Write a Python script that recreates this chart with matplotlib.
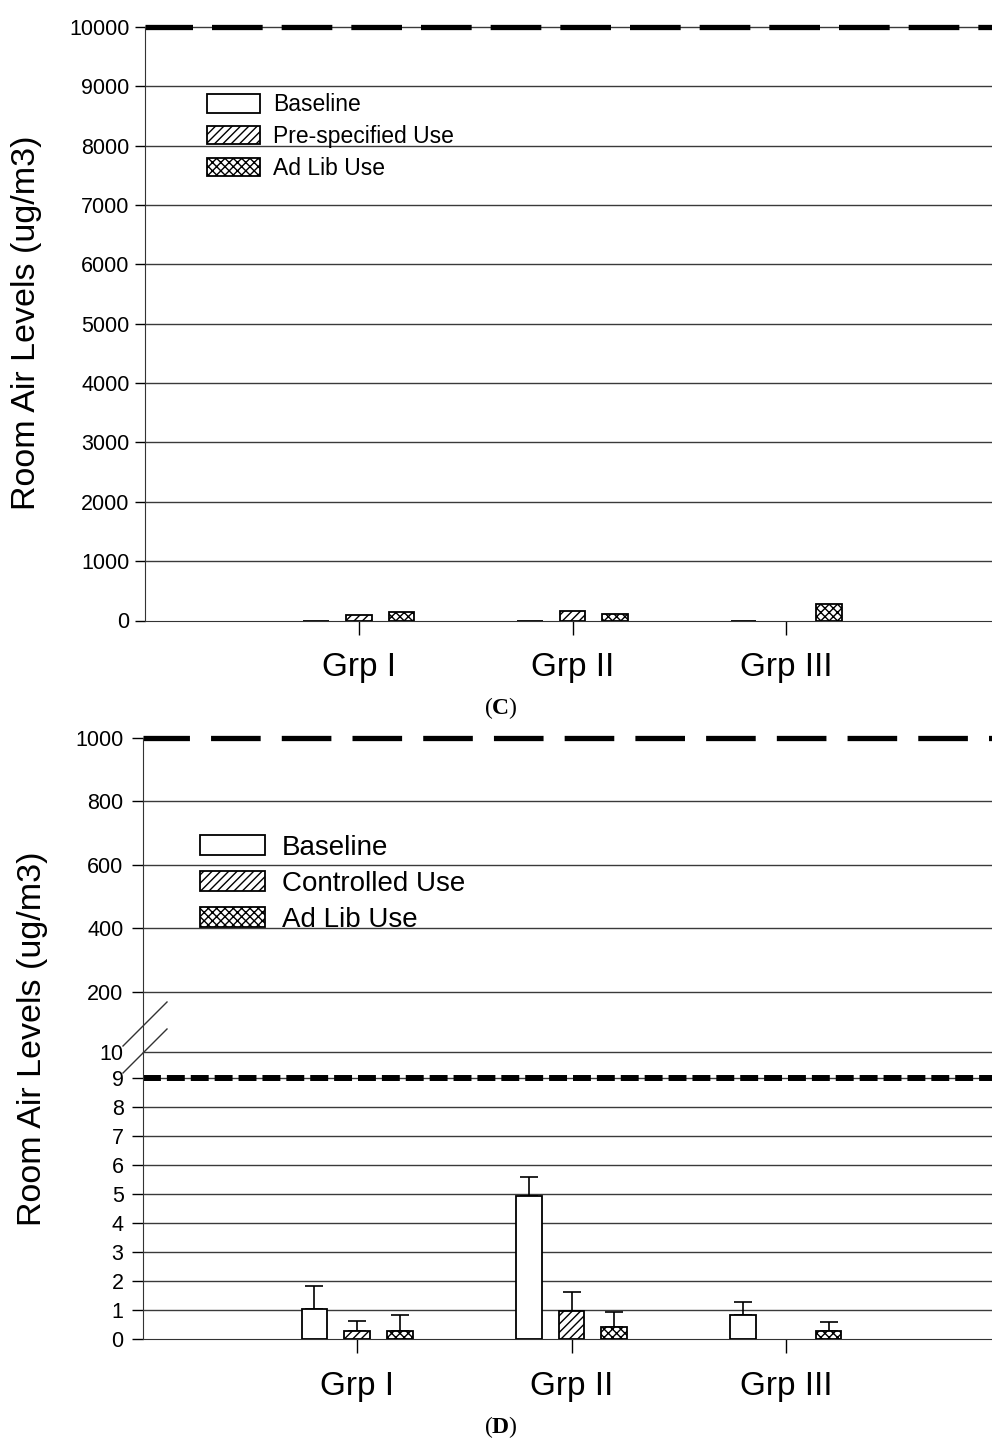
import matplotlib
matplotlib.use('Agg')
import matplotlib.pyplot as plt
import numpy as np

plt.rcParams['font.family'] = ['Liberation Sans', 'DejaVu Sans']
plt.rcParams['hatch.linewidth'] = 1.0
plt.rcParams['mathtext.fontset'] = 'custom'
plt.rcParams['mathtext.rm'] = 'Liberation Serif'
plt.rcParams['mathtext.bf'] = 'Liberation Serif:bold'

# ---------------- data ----------------
groups = ['Grp I', 'Grp II', 'Grp III']
series_c = ['Baseline', 'Pre-specified Use', 'Ad Lib Use']
series_d = ['Baseline', 'Controlled Use', 'Ad Lib Use']

c_baseline = [0, 0, 0]
c_prespec = [100, 155, np.nan]
c_adlib = [140, 105, 275]

d_baseline = [1.05, 4.95, 0.83]
d_controlled = [0.29, 0.97, np.nan]
d_adlib = [0.29, 0.42, 0.28]
d_baseline_err = [0.78, 0.65, 0.46]
d_controlled_err = [0.34, 0.65, np.nan]
d_adlib_err = [0.53, 0.52, 0.32]

c_yticks = [0, 1000, 2000, 3000, 4000, 5000, 6000, 7000, 8000, 9000, 10000]
d_upper_ticks = [10, 200, 400, 600, 800, 1000]
d_lower_ticks = [0, 1, 2, 3, 4, 5, 6, 7, 8, 9]
c_limit = 10000
d_limit_upper = 1000
d_limit_lower = 9

hatches = [None, '////', 'xxxx']
offsets = [-0.2, 0.0, 0.2]
width = 0.12
grid_color = '#3a3a3a'

W, H = 992, 1439
fig = plt.figure(figsize=(W / 100, H / 100), dpi=100)


def fx(px):
    return px / W


def fy(py):
    return 1 - py / H


x = np.arange(1, len(groups) + 1)
tick_fs = 15.5

# ---------------- Panel C ----------------
axc = fig.add_axes([fx(145), fy(620.5), fx(1000) - fx(145), fy(27) - fy(620.5)])
axc.set_xlim(0, 4)
axc.set_ylim(0, c_limit)
for yv in c_yticks[1:]:
    axc.axhline(yv, color=grid_color, lw=1.0, zorder=0, clip_on=False)
axc.axhline(c_limit, color='black', lw=3.8, ls=(0.6, (9.6, 3.6)), zorder=1, clip_on=False)
vals_c = [c_baseline, c_prespec, c_adlib]
for i, (vals, lab) in enumerate(zip(vals_c, series_c)):
    axc.bar(x + offsets[i], vals, width, color='white', edgecolor='black',
            hatch=hatches[i], lw=1.3, label=lab, zorder=3)
axc.set_yticks(c_yticks)
axc.set_yticklabels([str(v) for v in c_yticks], fontsize=tick_fs)
axc.set_xticks(x)
axc.set_xticklabels(groups, fontsize=24)
axc.tick_params(axis='x', length=10, width=1, pad=13, direction='out')
axc.tick_params(axis='y', length=7, width=1, pad=4, direction='out')
for s in ['top', 'right']:
    axc.spines[s].set_visible(False)
axc.spines['left'].set_color('#333333')
axc.spines['bottom'].set_color('#333333')
legc = axc.legend(loc='upper left', bbox_to_anchor=((207 - 145) / (1000 - 145), 0.888),
                  frameon=False, fontsize=16.5, handlelength=2.3, handleheight=0.85,
                  labelspacing=0.38, handletextpad=0.57, borderpad=0, borderaxespad=0)
fig.text(fx(27), fy(323), 'Room Air Levels (ug/m3)', rotation=90,
         ha='center', va='center', fontsize=24.5)
fig.text(0.505, fy(708), r'$(\mathbf{C})$', ha='center', va='center', fontsize=17)

# ---------------- Panel D ----------------
left_d = fx(143)
right_d = fx(1000)
axu = fig.add_axes([left_d, fy(1052), right_d - left_d, fy(738) - fy(1052)])
axl = fig.add_axes([left_d, fy(1339), right_d - left_d, fy(1052) - fy(1339)])

for ax in (axu, axl):
    ax.set_xlim(0, 4)
    ax.patch.set_visible(False)
    for s in ['top', 'right']:
        ax.spines[s].set_visible(False)
    ax.spines['left'].set_color('#333333')

axu.set_ylim(d_upper_ticks[0], d_limit_upper)
axl.set_ylim(0, 9.9)

for yv in d_upper_ticks[:-1]:
    axu.axhline(yv, color=grid_color, lw=1.0, zorder=0, clip_on=False)
axu.axhline(d_limit_upper, color='black', lw=3.8, ls=(0.6, (9.4, 4.0)), zorder=1, clip_on=False)
axu.spines['bottom'].set_visible(False)
axu.set_xticks([])
axu.set_yticks(d_upper_ticks)
axu.set_yticklabels([str(v) for v in d_upper_ticks], fontsize=tick_fs)
axu.tick_params(axis='y', length=8, width=1, pad=6, direction='out')
axu.yaxis.get_major_ticks()[0].tick1line.set_visible(False)

for yv in d_lower_ticks[1:]:
    axl.axhline(yv, color=grid_color, lw=1.0, zorder=0)
axl.axhline(d_limit_lower, color='black', lw=4.3, ls=(0, (3.0, 1.0)), zorder=1)
axl.spines['bottom'].set_color('#333333')

vals_d = [d_baseline, d_controlled, d_adlib]
errs_d = [d_baseline_err, d_controlled_err, d_adlib_err]
for i, (vals, errs, lab) in enumerate(zip(vals_d, errs_d, series_d)):
    axl.bar(x + offsets[i], vals, width, color='white', edgecolor='black',
            hatch=hatches[i], lw=1.3, label=lab, zorder=3)
    axl.errorbar(x + offsets[i], vals, yerr=[np.zeros(len(errs)), errs], fmt='none',
                 ecolor='black', elinewidth=1.2, capsize=6.5, capthick=1.2, zorder=2)
    axu.bar(x + offsets[i], vals, width, color='white', edgecolor='black',
            hatch=hatches[i], lw=1.3, label=lab, zorder=3)

axl.set_yticks(d_lower_ticks)
axl.set_yticklabels([str(v) for v in d_lower_ticks], fontsize=tick_fs)
axl.set_xticks(x)
axl.set_xticklabels(groups, fontsize=24)
axl.tick_params(axis='x', length=10, width=1, pad=13, direction='out')
axl.tick_params(axis='y', length=8, width=1, pad=6, direction='out')

legd = axu.legend(loc='upper left', bbox_to_anchor=((200 - 143) / (1000 - 143), 0.692),
                  frameon=False, fontsize=20, handlelength=2.34, handleheight=0.68,
                  labelspacing=0.36, handletextpad=0.6, borderpad=0, borderaxespad=0)

# break marks
for y0 in (1046, 1073):
    fig.add_artist(plt.Line2D([fx(123), fx(167)], [fy(y0), fy(y0 - 44)],
                              color='#333333', lw=1.0))

fig.text(fx(33), fy(1039), 'Room Air Levels (ug/m3)', rotation=90,
         ha='center', va='center', fontsize=24.5)

fig.text(0.505, fy(1427), r'$(\mathbf{D})$', ha='center', va='center', fontsize=17)

fig.savefig('out.png', dpi=100)
